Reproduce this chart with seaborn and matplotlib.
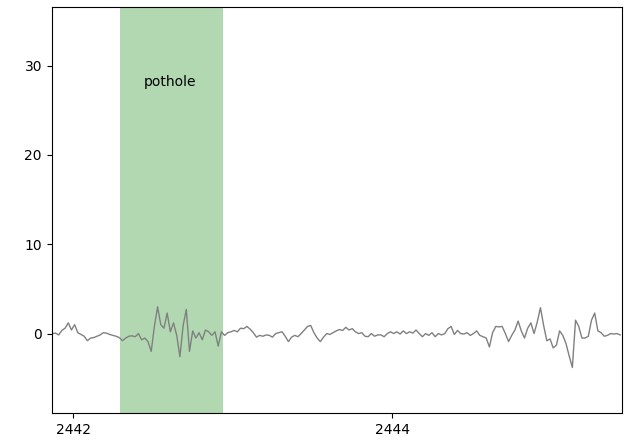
import numpy as np
import pandas as pd
import seaborn as sns
from matplotlib import pyplot as plt

# Sample clock of the recording (seconds)
t_start = 2441.87
t_step = 0.02

# Vertical acceleration readings
accel = [
    0, 0.05, -0.15, 0.35, 0.6, 1.2, 0.4, 1.0, 0.1, -0.1, -0.3, -0.8, -0.5,
    -0.45, -0.3, -0.15, 0.1, 0.05, -0.1, -0.2, -0.3, -0.45, -0.8, -0.5, -0.3,
    -0.25, -0.35, 0.0, -0.7, -0.5, -0.9, -2.0, 0.8, 3.0, 1.0, 0.6, 2.3, 0.2,
    1.2, -0.2, -2.6, 0.9, 2.7, -2.0, 0.3, -0.5, 0.1, -0.7, 0.4, 0.2, -0.2,
    0.2, -1.4, 0.2, -0.2, 0.1, 0.2, 0.35, 0.2, 0.6, 0.55, 0.8, 0.5, 0.1,
    -0.4, -0.2, -0.3, -0.15, -0.2, -0.4, 0.0, 0.1, 0.2, -0.3, -0.9, -0.4, -0.2,
    -0.35, 0.0, 0.4, 0.8, 0.9, 0.1, -0.5, -0.9, -0.4, 0.0, -0.1, 0.1, 0.3,
    0.45, 0.35, 0.7, 0.4, 0.55, 0.2, 0.0, 0.1, -0.3, -0.35, 0.0, -0.3, -0.15,
    -0.15, -0.35, 0.0, 0.2, 0.0, 0.2, -0.05, 0.3, 0.0, 0.2, 0.05, 0.4, 0.0,
    -0.35, 0.0, -0.2, 0.1, -0.35, 0.0, -0.15, 0.0, 0.55, 0.8, -0.1, 0.35, 0.0,
    -0.05, 0.1, -0.2, 0.0, 0.3, -0.2, -0.35, -0.5, -1.5, 0.1, 0.8, 0.75, 0.8,
    0.0, -0.9, -0.2, 0.4, 1.4, 0.3, -0.5, 0.6, 1.2, 0.0, 1.3, 2.9,
    0.9, -0.8, -0.6, -1.6, -1.3, 0.3, -0.2, -1.1, -2.5, -3.8, 1.5, 0.8, -0.5,
    -0.5, -0.3, 1.5, 2.3, 0.3, 0.1, -0.3, -0.2, 0.0, -0.05, 0.0, -0.15,
]

# Labelled event
pothole_start = 2442.296
pothole_end = 2442.94
event_label = "pothole"

x_ticks = [2442, 2444]
y_ticks = [0, 10, 20, 30]

df = pd.DataFrame({
    "time": t_start + t_step * np.arange(len(accel)),
    "accel": accel,
})

fig, ax = plt.subplots(figsize=(6.3, 4.48), dpi=100)
fig.subplots_adjust(left=0.082, right=0.987, top=0.985, bottom=0.078)

ax.axvspan(pothole_start, pothole_end, color="green", alpha=0.3, lw=0)
sns.lineplot(data=df, x="time", y="accel", color="gray", lw=1, ax=ax)
ax.text(2442.61, 28.2, event_label, ha="center", va="center", fontsize=10)

ax.set_xlim(2441.866, 2445.44)
ax.set_ylim(-8.9, 36.6)
ax.set_xticks(x_ticks)
ax.set_yticks(y_ticks)
ax.set_xlabel("")
ax.set_ylabel("")

plt.savefig("out.png")
